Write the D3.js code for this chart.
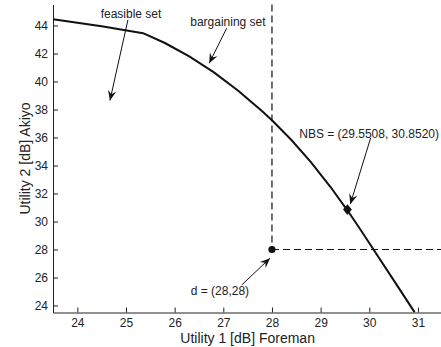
<!DOCTYPE html>
<html>
<head>
<meta charset="utf-8">
<script src="https://cdn.jsdelivr.net/npm/d3@7"></script>
<style>
  body { margin: 0; background: #fff; }
  svg { display: block; font-family: "Liberation Sans", Arial, Helvetica, sans-serif; }
</style>
</head>
<body>
<figure id="bargain" style="margin:0"></figure>
<script>
// boundary of the feasible set (utility pairs)
const u1 = [23.5, 24.5, 25.35, 25.8, 26.3, 26.8, 27.3, 27.8, 28.0, 28.4, 28.8, 29.2, 29.55, 29.8, 30.08, 30.5, 30.93];
const u2 = [44.45, 43.95, 43.45, 42.75, 41.8, 40.67, 39.36, 37.87, 37.23, 35.82, 34.24, 32.48, 30.8, 29.52, 28.04, 25.81, 23.53];

const xTicks = [24, 25, 26, 27, 28, 29, 30, 31];
const yTicks = [24, 26, 28, 30, 32, 34, 36, 38, 40, 42, 44];

const dPoint = [28, 28];
const nbsPoint = [29.5508, 30.8520];

// text annotations, in data units
const labels = [
  { text: "feasible set", x: 24.48, y: 44.84 },
  { text: "bargaining set", x: 26.32, y: 44.23 },
  { text: "NBS = (29.5508, 30.8520)", x: 28.56, y: 36.27 },
  { text: "d = (28,28)", x: 26.33, y: 25.03 }
];

// annotation arrows: [from, to] in data units
const arrows = [
  [[25.04, 44.4], [24.67, 38.64]],
  [[27.07, 43.81], [26.71, 41.3]],
  [[30.03, 35.99], [29.61, 31.24]],
  [[27.38, 25.47], [27.96, 27.38]]
];

const width = 441, height = 347;
const margin = { left: 53, top: 4.5, bottom: 34.5 };

const svg = d3.select("figure#bargain")
  .append("svg")
  .attr("width", width)
  .attr("height", height);

const x = d3.scaleLinear()
  .domain([23.5, 31.5])
  .range([margin.left, margin.left + 8 * 48.66]);

const y = d3.scaleLinear()
  .domain([23.5, 45.5])
  .range([height - margin.bottom, margin.top]);

// axes, ticks pointing inward
const xAxis = svg.append("g")
  .attr("transform", `translate(0, ${y(23.5)})`)
  .call(d3.axisBottom(x).tickValues(xTicks).tickFormat(d3.format("d"))
    .tickSizeInner(-5).tickSizeOuter(0).tickPadding(6));

const yAxis = svg.append("g")
  .attr("transform", `translate(${x(23.5)}, 0)`)
  .call(d3.axisLeft(y).tickValues(yTicks).tickFormat(d3.format("d"))
    .tickSizeInner(-5).tickSizeOuter(0).tickPadding(5));

[xAxis, yAxis].forEach(g => {
  g.attr("font-family", null).attr("font-size", 12);
  g.selectAll("text").attr("fill", "#222");
  g.selectAll("path, line").attr("stroke", "#222");
});

svg.append("text")
  .attr("x", (x.range()[0] + x.range()[1]) / 2)
  .attr("y", 343)
  .attr("text-anchor", "middle")
  .attr("font-size", 14)
  .attr("fill", "#222")
  .text("Utility 1 [dB] Foreman");

svg.append("text")
  .attr("transform", `translate(30, ${(y.range()[0] + y.range()[1]) / 2}) rotate(-90)`)
  .attr("text-anchor", "middle")
  .attr("font-size", 14)
  .attr("fill", "#222")
  .text("Utility 2 [dB] Akiyo");

// dashed guides through d
svg.append("line")
  .attr("x1", x(dPoint[0])).attr("x2", x(dPoint[0]))
  .attr("y1", y(45.5)).attr("y2", y(dPoint[1]))
  .attr("stroke", "#111").attr("stroke-width", 1.2)
  .attr("stroke-dasharray", "7,4");

svg.append("line")
  .attr("x1", x(dPoint[0])).attr("x2", x(31.5))
  .attr("y1", y(dPoint[1])).attr("y2", y(dPoint[1]))
  .attr("stroke", "#111").attr("stroke-width", 1.2)
  .attr("stroke-dasharray", "7,4");

// boundary curve
const line = d3.line()
  .x((d, i) => x(u1[i]))
  .y((d, i) => y(u2[i]));

svg.append("path")
  .datum(u1)
  .attr("d", line)
  .attr("fill", "none")
  .attr("stroke", "#111")
  .attr("stroke-width", 2)
  .attr("stroke-linejoin", "round");

// points
svg.append("circle")
  .attr("cx", x(dPoint[0]))
  .attr("cy", y(dPoint[1]))
  .attr("r", 3.6)
  .attr("fill", "#111");

svg.append("path")
  .attr("transform", `translate(${x(nbsPoint[0])}, ${y(nbsPoint[1])})`)
  .attr("d", "M0,-5.4L4.4,0L0,5.4L-4.4,0Z")
  .attr("fill", "#111");

// labels
svg.selectAll("text.note")
  .data(labels)
  .join("text")
  .attr("class", "note")
  .attr("x", d => x(d.x))
  .attr("y", d => y(d.y))
  .attr("dy", "0.35em")
  .attr("font-size", 12)
  .attr("fill", "#222")
  .text(d => d.text);

// arrows with a notched filled head
const headLen = 10, headHalf = 4.2;
arrows.forEach(a => {
  const x0 = x(a[0][0]), y0 = y(a[0][1]);
  const x1 = x(a[1][0]), y1 = y(a[1][1]);
  const ang = Math.atan2(y1 - y0, x1 - x0) * 180 / Math.PI;

  svg.append("line")
    .attr("x1", x0).attr("y1", y0)
    .attr("x2", x1).attr("y2", y1)
    .attr("stroke", "#111").attr("stroke-width", 1);

  svg.append("path")
    .attr("transform", `translate(${x1}, ${y1}) rotate(${ang})`)
    .attr("d", `M0,0L${-headLen},${-headHalf}L${-headLen * 0.65},0L${-headLen},${headHalf}Z`)
    .attr("fill", "#111");
});
</script>
</body>
</html>
